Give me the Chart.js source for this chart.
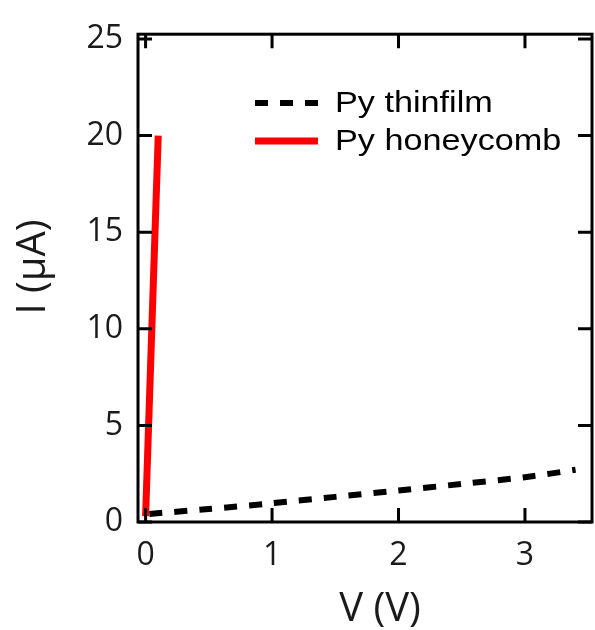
<!DOCTYPE html>
<html lang="en">
<head>
<meta charset="UTF-8">
<title>Py I-V</title>
<script src="https://cdn.jsdelivr.net/npm/chart.js@4.4.1/dist/chart.umd.min.js"></script>
<style>
  html, body { margin: 0; padding: 0; background: #fff; }
  #wrap { width: 595px; height: 630px; }
</style>
</head>
<body>
<div id="wrap"><canvas id="ivChart" width="595" height="630"></canvas></div>
<script>
// values
const xTicks = [0, 1, 2, 3];
const yTicks = [0, 5, 10, 15, 20, 25];
const seriesNames = ['Py thinfilm', 'Py honeycomb'];
const thinfilmV = [0.03, 0.5, 1.0, 1.5, 2.0, 2.5, 3.0, 3.4];
const thinfilmI = [0.42, 0.67, 0.97, 1.3, 1.63, 1.97, 2.32, 2.7];
const honeycombV = [0.0, 0.1];
const honeycombI = [0.3, 20];

const toPoints = (xs, ys) => xs.map((x, i) => ({ x, y: ys[i] }));

// frame, inward ticks, axis titles, legend
const framePlugin = {
  id: 'frame',
  afterDraw(chart) {
    const { ctx, chartArea: a, scales } = chart;
    const tick = 14;
    ctx.save();
    ctx.strokeStyle = '#000';
    ctx.lineWidth = 3;
    ctx.strokeRect(a.left, a.top, a.right - a.left, a.bottom - a.top);
    ctx.beginPath();
    xTicks.forEach(v => {
      const px = scales.x.getPixelForValue(v);
      ctx.moveTo(px, a.bottom); ctx.lineTo(px, a.bottom - tick);
      ctx.moveTo(px, a.top); ctx.lineTo(px, a.top + tick);
    });
    yTicks.forEach(v => {
      const py = scales.y.getPixelForValue(v);
      ctx.moveTo(a.left, py); ctx.lineTo(a.left + tick, py);
      ctx.moveTo(a.right, py); ctx.lineTo(a.right - tick, py);
    });
    ctx.stroke();

    // axis titles
    ctx.fillStyle = '#1a1a1a';
    ctx.font = '40px "Open Sans"';
    ctx.textAlign = 'center';
    ctx.textBaseline = 'alphabetic';
    ctx.fillText('V (V)', 380, 621);
    ctx.save();
    ctx.translate(45, 267);
    ctx.rotate(-Math.PI / 2);
    ctx.fillText('I (\u00b5A)', 0, 0);
    ctx.restore();

    // legend
    const rows = [103, 141];
    chart.data.datasets.forEach((ds, i) => {
      ctx.save();
      ctx.strokeStyle = ds.borderColor;
      ctx.lineWidth = ds.borderWidth;
      ctx.setLineDash(ds.borderDash || []);
      ctx.beginPath();
      ctx.moveTo(255, rows[i]);
      ctx.lineTo(318, rows[i]);
      ctx.stroke();
      ctx.restore();

      ctx.save();
      ctx.fillStyle = '#000';
      ctx.font = '29px "Liberation Sans"';
      ctx.textAlign = 'left';
      ctx.translate(335, rows[i] + 9);
      ctx.scale(1.18, 1);
      ctx.fillText(ds.label, 0, 0);
      ctx.restore();
    });
    ctx.restore();
  }
};

new Chart(document.getElementById('ivChart'), {
  type: 'scatter',
  data: {
    datasets: [
      {
        label: seriesNames[0],
        data: toPoints(thinfilmV, thinfilmI),
        showLine: true,
        borderColor: '#000',
        borderWidth: 6,
        borderDash: [13, 12],
        pointRadius: 0,
        tension: 0.3
      },
      {
        label: seriesNames[1],
        data: toPoints(honeycombV, honeycombI),
        showLine: true,
        borderColor: '#ff0000',
        borderWidth: 7,
        pointRadius: 0
      }
    ]
  },
  options: {
    responsive: false,
    animation: false,
    devicePixelRatio: 1,
    layout: { padding: { top: 17, right: 3, left: 0, bottom: 0 } },
    plugins: {
      legend: { display: false },
      tooltip: { enabled: false }
    },
    scales: {
      x: {
        type: 'linear',
        min: -0.06,
        max: 3.53,
        afterBuildTicks: s => { s.ticks = xTicks.map(v => ({ value: v })); },
        afterFit: s => { s.height = 108; },
        grid: { display: false, drawTicks: false },
        border: { display: false },
        ticks: {
          padding: 15,
          color: '#1a1a1a',
          font: { family: 'Open Sans', size: 32 }
        }
      },
      y: {
        min: 0,
        max: 25.25,
        afterBuildTicks: s => { s.ticks = yTicks.map(v => ({ value: v })); },
        afterFit: s => { s.width = 138; },
        grid: { display: false, drawTicks: false },
        border: { display: false },
        ticks: {
          padding: 15,
          color: '#1a1a1a',
          font: { family: 'Open Sans', size: 32 }
        }
      }
    }
  },
  plugins: [framePlugin]
});
</script>
</body>
</html>
